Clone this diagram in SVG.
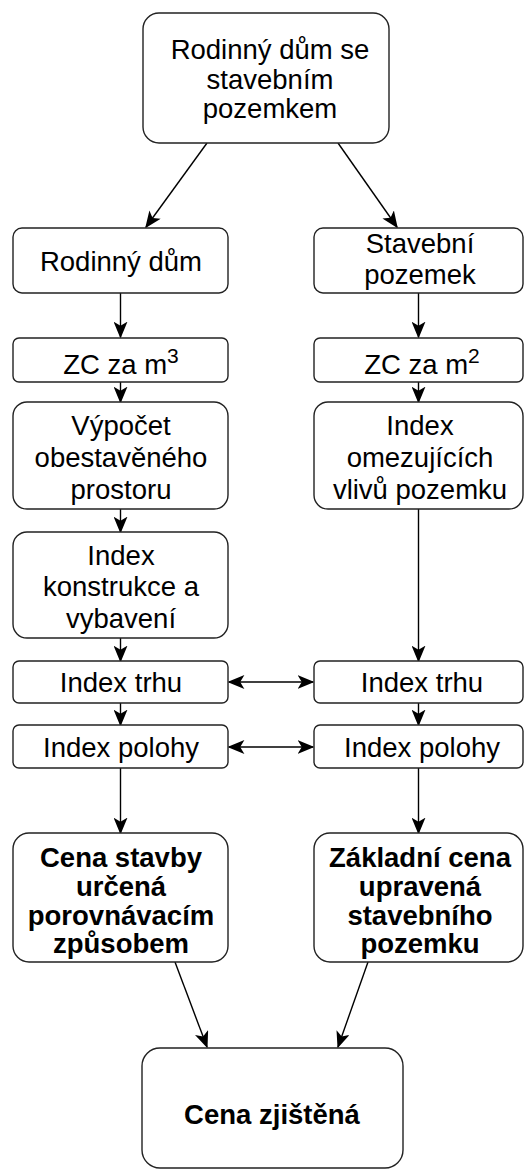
<svg xmlns="http://www.w3.org/2000/svg" width="525" height="1171" viewBox="0 0 525 1171">
<style>
.box{fill:#fff;stroke:#222;stroke-width:1.4}
.t{font-family:"Liberation Sans",Arial,sans-serif;font-size:27.5px;fill:#000;text-anchor:middle}
.b{font-weight:bold}
.c{fill:none;stroke:#000;stroke-width:1.4}
</style>
<defs>
<marker id="ah" viewBox="0 0 12 10" refX="11" refY="5" markerWidth="17" markerHeight="14" orient="auto-start-reverse" markerUnits="userSpaceOnUse">
<path d="M0,0 L12,5 L0,10 L3,5 z" fill="#000"/>
</marker>
</defs>
<rect width="525" height="1171" fill="#fff"/>
<g id="connectors">
<line class="c" x1="207" y1="143" x2="146" y2="227" marker-end="url(#ah)"/>
<line class="c" x1="338" y1="143" x2="397" y2="227" marker-end="url(#ah)"/>
<line class="c" x1="120.5" y1="293" x2="120.5" y2="337" marker-end="url(#ah)"/>
<line class="c" x1="418.5" y1="293" x2="418.5" y2="337" marker-end="url(#ah)"/>
<line class="c" x1="120.5" y1="382" x2="120.5" y2="402" marker-end="url(#ah)"/>
<line class="c" x1="418.5" y1="382" x2="418.5" y2="402" marker-end="url(#ah)"/>
<line class="c" x1="120.5" y1="509" x2="120.5" y2="532" marker-end="url(#ah)"/>
<line class="c" x1="418.5" y1="509" x2="418.5" y2="661" marker-end="url(#ah)"/>
<line class="c" x1="120.5" y1="638" x2="120.5" y2="661" marker-end="url(#ah)"/>
<line class="c" x1="120.5" y1="703" x2="120.5" y2="725" marker-end="url(#ah)"/>
<line class="c" x1="418.5" y1="703" x2="418.5" y2="725" marker-end="url(#ah)"/>
<line class="c" x1="229" y1="682" x2="313" y2="682" marker-start="url(#ah)" marker-end="url(#ah)"/>
<line class="c" x1="229" y1="747" x2="313" y2="747" marker-start="url(#ah)" marker-end="url(#ah)"/>
<line class="c" x1="120.5" y1="768" x2="120.5" y2="833" marker-end="url(#ah)"/>
<line class="c" x1="418.5" y1="768" x2="418.5" y2="833" marker-end="url(#ah)"/>
<line class="c" x1="175" y1="962" x2="207" y2="1047" marker-end="url(#ah)"/>
<line class="c" x1="368" y1="962" x2="338" y2="1047" marker-end="url(#ah)"/>
</g>
<g id="n-top">
<rect class="box" x="143" y="13" width="246" height="130" rx="16"/>
<text class="t" x="270" y="59">Rodinný dům se</text>
<text class="t" x="270" y="89">stavebním</text>
<text class="t" x="270" y="118">pozemkem</text>
</g>
<g id="n-rd">
<rect class="box" x="13" y="228" width="215" height="65" rx="9"/>
<text class="t" x="121" y="271">Rodinný dům</text>
</g>
<g id="n-sp">
<rect class="box" x="314" y="228" width="209" height="65" rx="9"/>
<text class="t" x="420" y="253">Stavební</text>
<text class="t" x="420" y="284">pozemek</text>
</g>
<g id="n-zc3">
<rect class="box" x="13" y="338" width="215" height="44" rx="6"/>
<text class="t" x="121" y="374">ZC za m<tspan font-size="21" dy="-11">3</tspan></text>
</g>
<g id="n-zc2">
<rect class="box" x="314" y="338" width="209" height="44" rx="6"/>
<text class="t" x="422" y="374">ZC za m<tspan font-size="21" dy="-11">2</tspan></text>
</g>
<g id="n-vyp">
<rect class="box" x="13" y="402" width="215" height="107" rx="14"/>
<text class="t" x="121" y="435">Výpočet</text>
<text class="t" x="121" y="467">obestavěného</text>
<text class="t" x="121" y="499">prostoru</text>
</g>
<g id="n-iov">
<rect class="box" x="314" y="402" width="209" height="107" rx="14"/>
<text class="t" x="420" y="435">Index</text>
<text class="t" x="420" y="467">omezujících</text>
<text class="t" x="420" y="499">vlivů pozemku</text>
</g>
<g id="n-ikv">
<rect class="box" x="13" y="532" width="215" height="106" rx="14"/>
<text class="t" x="121" y="565">Index</text>
<text class="t" x="121" y="596">konstrukce a</text>
<text class="t" x="121" y="628">vybavení</text>
</g>
<g id="n-it1">
<rect class="box" x="13" y="661" width="215" height="42" rx="6"/>
<text class="t" x="121" y="692">Index trhu</text>
</g>
<g id="n-it2">
<rect class="box" x="314" y="661" width="209" height="42" rx="6"/>
<text class="t" x="422" y="692">Index trhu</text>
</g>
<g id="n-ip1">
<rect class="box" x="13" y="725" width="215" height="43" rx="6"/>
<text class="t" x="121" y="757">Index polohy</text>
</g>
<g id="n-ip2">
<rect class="box" x="314" y="725" width="209" height="43" rx="6"/>
<text class="t" x="422" y="757">Index polohy</text>
</g>
<g id="n-cs">
<rect class="box" x="13" y="833" width="215" height="129" rx="16"/>
<text class="t b" x="121" y="867">Cena stavby</text>
<text class="t b" x="121" y="896">určená</text>
<text class="t b" x="121" y="925">porovnávacím</text>
<text class="t b" x="121" y="953">způsobem</text>
</g>
<g id="n-zc">
<rect class="box" x="314" y="833" width="209" height="129" rx="16"/>
<text class="t b" x="420" y="867">Základní cena</text>
<text class="t b" x="420" y="896">upravená</text>
<text class="t b" x="420" y="925">stavebního</text>
<text class="t b" x="420" y="953">pozemku</text>
</g>
<g id="n-final">
<rect class="box" x="142" y="1048" width="261" height="120" rx="18"/>
<text class="t b" x="272" y="1124">Cena zjištěná</text>
</g>
</svg>
